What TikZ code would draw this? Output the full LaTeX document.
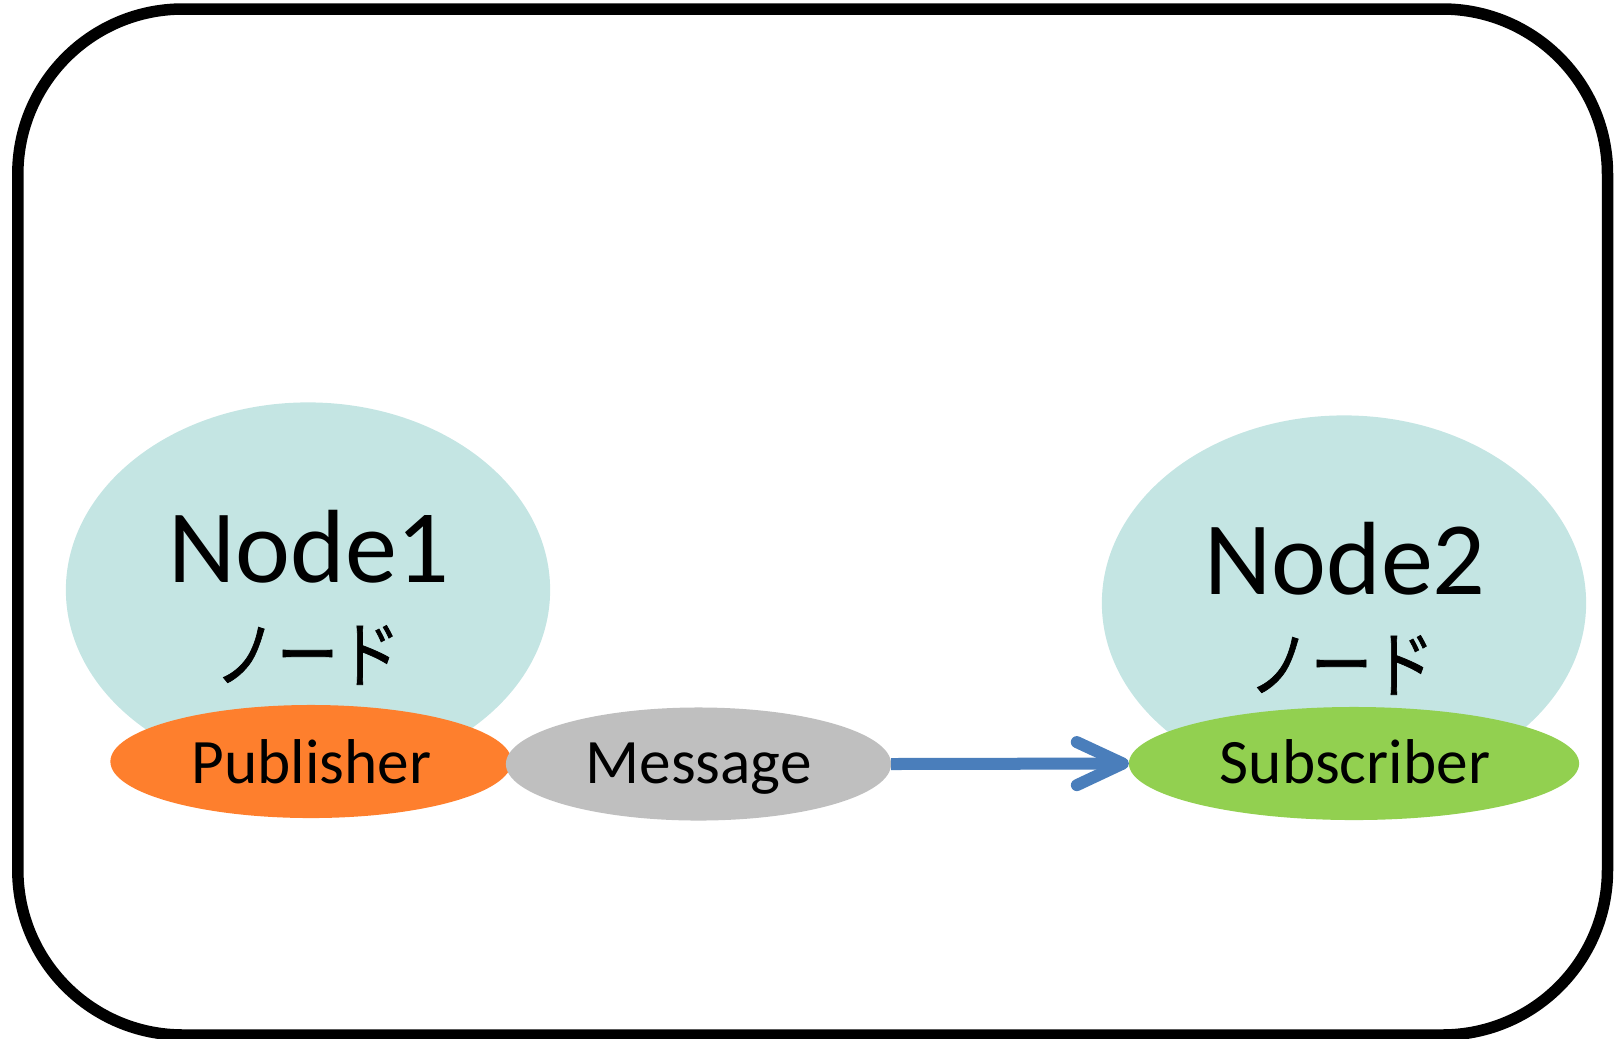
\documentclass[tikz,border=0pt]{standalone}
\usepackage{fontspec}
\setmainfont{Carlito}
\newfontfamily\jpfont[FakeBold=1]{Noto Sans CJK JP}
\usetikzlibrary{arrows.meta,shapes.geometric}
\definecolor{hostfill}{HTML}{C4E5E3}
\definecolor{pubfill}{HTML}{FE7F2D}
\definecolor{msgfill}{HTML}{BFBFBF}
\definecolor{subfill}{HTML}{92D050}
\definecolor{flowblue}{HTML}{4A7EBB}
\newcommand{\kana}[1]{\scalebox{1}[1.18]{#1}}
\tikzset{
  blob/.style={ellipse, draw=none, inner sep=0pt, outer sep=0pt},
  hostblob/.style={blob, fill=hostfill, minimum width=4.84cm, minimum height=3.75cm},
  portblob/.style={blob, minimum height=1.13cm},
  titletext/.style={inner sep=0pt, anchor=base, font=\fontsize{29.6pt}{32pt}\selectfont},
  kanatext/.style={inner sep=0pt, font=\jpfont\fontsize{17.6pt}{20pt}\selectfont},
  labeltext/.style={inner sep=0pt, anchor=base, font=\fontsize{18pt}{20pt}\selectfont},
  flow/.style={draw=flowblue, line width=0.12cm,
    -{Straight Barb[length=0.46cm, width=0.43cm, round]}},
  frame/.style={draw=black, line width=0.115cm, rounded corners=1.65cm}
}
\begin{document}
\begin{tikzpicture}[x=0.01cm, y=-0.01cm]
\useasboundingbox (0,0) rectangle (1614,1038);

% outer frame
\path[frame] (17.8,9) rectangle (1607.5,1035);

% first node with its publisher
\node[hostblob] (host1) at (308,590) {};
\node[portblob, fill=pubfill, minimum width=4.01cm] (pub) at (311,761.5) {};
\node[titletext] (host1title) at (309,582.7) {Node1};
\node[kanatext] (host1kana) at (307.5,655) {\kana{ノード}};
\node[labeltext] (pubtext) at (311.5,783.3) {Publisher};

% message in transit
\node[portblob, fill=msgfill, minimum width=3.85cm] (msg) at (698.5,764) {};
\node[labeltext] (msgtext) at (698.5,783.3) {Message};

% second node with its subscriber
\node[hostblob] (host2) at (1344,603) {};
\node[portblob, fill=subfill, minimum width=4.5cm] (sub) at (1354,763.5) {};
\node[titletext] (host2title) at (1345,594) {Node2};
\node[kanatext] (host2kana) at (1341.5,665) {\kana{ノード}};
\node[labeltext] (subtext) at (1355,783) {Subscriber};

% delivery
\draw[flow] (msg.east) -- (sub.west);
\end{tikzpicture}
\end{document}
